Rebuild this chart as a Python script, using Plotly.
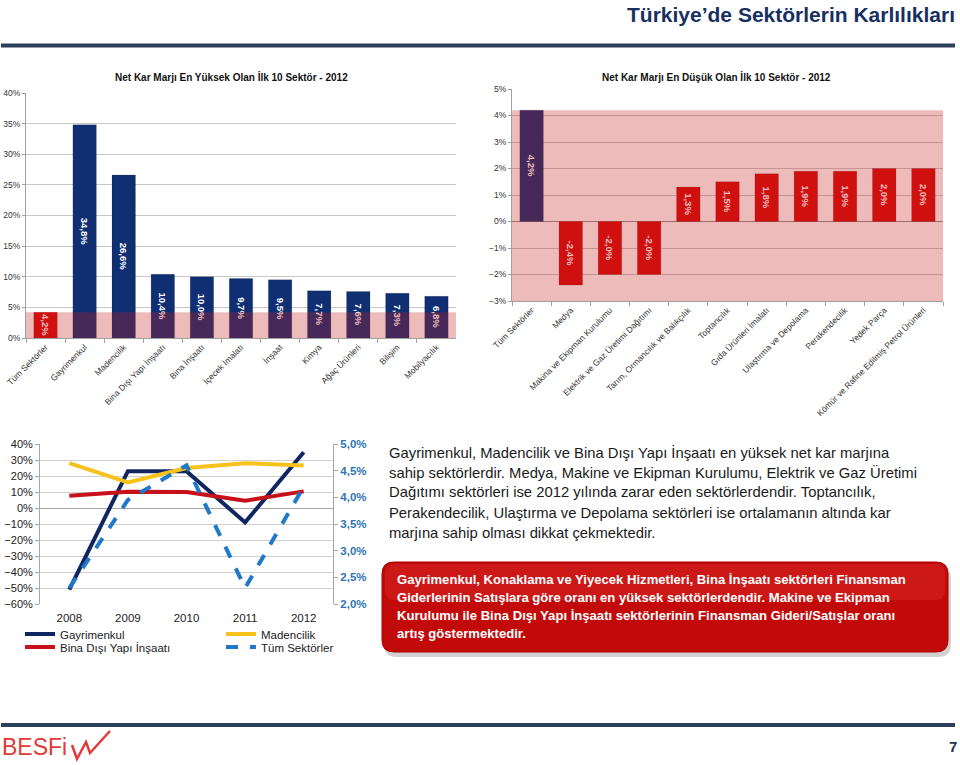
import plotly.graph_objects as go

W, H = 960, 765
def X(px): return px / W
def Y(py): return 1 - py / H

# ---------------- data ----------------
top_sectors = ["Tüm Sektörler", "Gayrimenkul", "Madencilik", "Bina Dışı Yapı İnşaatı",
               "Bina İnşaatı", "İçecek İmalatı", "İnşaat", "Kimya", "Ağaç Ürünleri",
               "Bilişim", "Mobilyacılık"]
top_values = [4.2, 34.8, 26.6, 10.4, 10.0, 9.7, 9.5, 7.7, 7.6, 7.3, 6.8]

low_sectors = ["Tüm Sektörler", "Medya", "Makina ve Ekipman Kurulumu",
               "Elektrik ve Gaz Üretimi Dağıtımı", "Tarım, Ormancılık ve Balıkçılık",
               "Toptancılık", "Gıda Ürünleri İmalatı", "Ulaştırma ve Depolama",
               "Perakendecilik", "Yedek Parça", "Kömür ve Rafine Edilmiş Petrol Ürünleri"]
low_values = [4.2, -2.4, -2.0, -2.0, 1.3, 1.5, 1.8, 1.9, 1.9, 2.0, 2.0]

years = ["2008", "2009", "2010", "2011", "2012"]
gayrimenkul = [-51.0, 23.0, 23.0, -9.0, 34.8]
madencilik = [28.0, 16.0, 25.0, 28.0, 26.6]
bina_disi = [7.7, 10.2, 10.0, 4.6, 10.4]
tum_sektorler = [2.3, 3.95, 4.6, 2.3, 4.2]   # right axis

all_avg = 4.2

NAVY = "#102f73"
RED = "#d40a0a"
BAND = "rgba(200,30,30,0.30)"
GRID = "#c8c8c8"
TXT = "#333333"

fig = go.Figure()

fig.add_trace(go.Bar(
    x=top_sectors, y=top_values, xaxis="x", yaxis="y",
    marker=dict(color=[RED] + [NAVY] * (len(top_values) - 1),
                line=dict(color="rgba(0,0,0,0.25)", width=0.5)),
    texttemplate="<b>%{y:.1f}%</b>", textposition="inside", insidetextanchor="middle",
    textangle=90, constraintext="none",
    insidetextfont=dict(color="white", size=9.5, family="Liberation Sans"),
    showlegend=False, hoverinfo="skip"))

fig.add_trace(go.Bar(
    x=low_sectors, y=low_values, xaxis="x2", yaxis="y2",
    marker=dict(color=[NAVY] + [RED] * (len(low_values) - 1),
                line=dict(color="rgba(0,0,0,0.25)", width=0.5)),
    texttemplate="<b>%{y:.1f}%</b>", textposition="inside", insidetextanchor="middle",
    textangle=90, constraintext="none",
    insidetextfont=dict(color="white", size=9.5, family="Liberation Sans"),
    showlegend=False, hoverinfo="skip"))

fig.add_trace(go.Scatter(x=years, y=gayrimenkul, xaxis="x3", yaxis="y3", mode="lines",
                         name="Gayrimenkul", line=dict(color="#0f2660", width=4),
                         legend="legend"))
fig.add_trace(go.Scatter(x=years, y=madencilik, xaxis="x3", yaxis="y3", mode="lines",
                         name="Madencilik", line=dict(color="#f8c21c", width=4),
                         legend="legend"))
fig.add_trace(go.Scatter(x=years, y=bina_disi, xaxis="x3", yaxis="y3", mode="lines",
                         name="Bina Dışı Yapı İnşaatı", line=dict(color="#c8101a", width=4),
                         legend="legend2"))
fig.add_trace(go.Scatter(x=years, y=tum_sektorler, xaxis="x3", yaxis="y4", mode="lines",
                         name="Tüm Sektörler",
                         line=dict(color="#1f78c8", width=4, dash="dash"),
                         legend="legend2"))

tickfont_small = dict(size=8.5, color=TXT, family="Liberation Sans")

fig.update_layout(
    width=W, height=H, margin=dict(l=0, r=0, t=0, b=0, autoexpand=False),
    paper_bgcolor="white", plot_bgcolor="white",
    separators=",.",
    font=dict(family="Liberation Sans", color=TXT),
    bargap=0.4,
    xaxis=dict(domain=[X(26), X(456)], anchor="y", tickangle=-45, tickfont=tickfont_small,
               showline=True, linecolor="#a0a0a0", ticks="outside", tickson="boundaries",
               ticklen=4, tickcolor="#a0a0a0", automargin=False),
    yaxis=dict(domain=[Y(338), Y(93)], anchor="x", range=[0, 40], dtick=5,
               ticksuffix="%", tickformat=".0f", tickfont=tickfont_small,
               showgrid=True, gridcolor=GRID, showline=True, linecolor="#a0a0a0",
               zeroline=False, ticks="outside", ticklen=3, tickcolor="#a0a0a0",
               automargin=False),
    xaxis2=dict(domain=[X(512), X(943)], anchor="y2", tickangle=-45, tickfont=tickfont_small,
                showline=True, linecolor="#a0a0a0", ticks="outside", tickson="boundaries",
                ticklen=4, tickcolor="#a0a0a0", automargin=False),
    yaxis2=dict(domain=[Y(301), Y(89)], anchor="x2", range=[-3, 5], dtick=1,
                ticksuffix="%", tickformat=".0f", tickfont=tickfont_small,
                showgrid=True, gridcolor=GRID, showline=True, linecolor="#a0a0a0",
                zeroline=True, zerolinecolor="#909090", zerolinewidth=1,
                ticks="outside", ticklen=3, tickcolor="#a0a0a0", automargin=False),
    xaxis3=dict(domain=[X(40), X(333)], anchor="y3", range=[-0.5, 4.5],
                tickfont=dict(size=11.5, color="#222222"), showline=False,
                ticks="outside", ticklen=3, tickcolor="rgba(0,0,0,0)", automargin=False),
    yaxis3=dict(domain=[Y(604), Y(444)], anchor="x3", range=[-60, 40], dtick=10,
                ticksuffix="%", tickformat=".0f", tickfont=dict(size=11, color="#222222"),
                showgrid=True, gridcolor="#d0d0d0", showline=True, linecolor="#a6a6a6",
                zeroline=True, zerolinecolor="#a6a6a6", zerolinewidth=1,
                ticks="outside", ticklen=4, tickcolor="#a6a6a6", automargin=False),
    yaxis4=dict(overlaying="y3", side="right", anchor="x3", range=[2, 5], dtick=0.5,
                ticksuffix="%", tickformat=".1f",
                tickfont=dict(size=11.5, color="#2f75b5", family="Liberation Sans",
                              weight="bold"),
                showgrid=False, showline=True, linecolor="#a6a6a6", zeroline=False,
                ticks="outside", ticklen=4, tickcolor="#a6a6a6", automargin=False),
    legend=dict(orientation="h", x=X(20), xanchor="left", y=Y(634), yanchor="middle",
                entrywidth=156, entrywidthmode="pixels", bgcolor="rgba(0,0,0,0)",
                font=dict(size=11.5, color="#222222"), itemwidth=30),
    legend2=dict(orientation="h", x=X(20), xanchor="left", y=Y(647), yanchor="middle",
                 entrywidth=156, entrywidthmode="pixels", bgcolor="rgba(0,0,0,0)",
                 font=dict(size=11.5, color="#222222"), itemwidth=30),
)

shapes = []
# pink bands (average of all sectors)
shapes.append(dict(type="rect", xref="x domain", yref="y", x0=0, x1=1, y0=0, y1=all_avg,
                   fillcolor=BAND, line=dict(width=0), layer="above"))
shapes.append(dict(type="rect", xref="x2 domain", yref="y2", x0=0, x1=1, y0=-3, y1=all_avg,
                   fillcolor=BAND, line=dict(width=0), layer="above"))
# header / footer lines
shapes.append(dict(type="line", xref="paper", yref="paper", x0=X(1), x1=X(955),
                   y0=Y(45.5), y1=Y(45.5), line=dict(color="#2a3f5c", width=4)))
shapes.append(dict(type="line", xref="paper", yref="paper", x0=X(1), x1=X(955),
                   y0=Y(725), y1=Y(725), line=dict(color="#2a3f5c", width=4)))

def rounded(x0, y0, x1, y1, r):
    rx, ry = r / W, r / H
    a, b, c, d = X(x0), Y(y0), X(x1), Y(y1)   # b top, d bottom in paper
    return (f"M {a+rx},{b} L {c-rx},{b} Q {c},{b} {c},{b-ry} L {c},{d+ry} "
            f"Q {c},{d} {c-rx},{d} L {a+rx},{d} Q {a},{d} {a},{d+ry} "
            f"L {a},{b-ry} Q {a},{b} {a+rx},{b} Z")

# red box shadow, box, highlight
shapes.append(dict(type="path", xref="paper", yref="paper",
                   path=rounded(384, 566, 951, 657, 13),
                   fillcolor="rgba(0,0,0,0.18)", line=dict(width=0)))
shapes.append(dict(type="path", xref="paper", yref="paper",
                   path=rounded(382, 562, 948, 652, 12),
                   fillcolor="#c30a0a", line=dict(color="#a80000", width=1)))
shapes.append(dict(type="path", xref="paper", yref="paper",
                   path=rounded(385, 564, 945, 600, 10),
                   fillcolor="rgba(255,90,90,0.18)", line=dict(width=0)))
# logo zigzag
shapes.append(dict(type="path", xref="paper", yref="paper",
                   path=(f"M {X(72)},{Y(745)} L {X(77)},{Y(759)} L {X(86)},{Y(742)} "
                         f"L {X(90)},{Y(753)} L {X(110)},{Y(731)}"),
                   line=dict(color="#e03a3a", width=2.5)))
fig.update_layout(shapes=shapes)

ann = []
ann.append(dict(text="<b>Türkiye’de Sektörlerin Karlılıkları</b>", x=X(957), y=Y(14),
                xref="paper", yref="paper", xanchor="right", yanchor="middle",
                showarrow=False, font=dict(size=21, color="#17305f", family="Liberation Sans")))
ann.append(dict(text="<b>Net Kar Marjı En Yüksek Olan İlk 10 Sektör - 2012</b>",
                x=X(231), y=Y(77), xref="paper", yref="paper", xanchor="center",
                yanchor="middle", showarrow=False, font=dict(size=10, color="#111111")))
ann.append(dict(text="<b>Net Kar Marjı En Düşük Olan İlk 10 Sektör - 2012</b>",
                x=X(716), y=Y(77), xref="paper", yref="paper", xanchor="center",
                yanchor="middle", showarrow=False, font=dict(size=10, color="#111111")))

para = ["Gayrimenkul, Madencilik ve Bina Dışı Yapı İnşaatı en yüksek net kar marjına",
        "sahip sektörlerdir. Medya, Makine ve Ekipman Kurulumu, Elektrik ve Gaz Üretimi",
        "Dağıtımı sektörleri ise 2012 yılında zarar eden sektörlerdendir. Toptancılık,",
        "Perakendecilik, Ulaştırma ve Depolama sektörleri ise ortalamanın altında kar",
        "marjına sahip olması dikkat çekmektedir."]
para_y = [452, 472, 492, 513, 533]
for t, py in zip(para, para_y):
    ann.append(dict(text=t, x=X(387), y=Y(py), xref="paper", yref="paper", xanchor="left",
                    yanchor="middle", showarrow=False,
                    font=dict(size=14.8, color="#1a1a1a", family="Liberation Sans")))

box = ["Gayrimenkul, Konaklama ve Yiyecek Hizmetleri, Bina İnşaatı sektörleri Finansman",
       "Giderlerinin Satışlara göre oranı en yüksek sektörlerdendir. Makine ve Ekipman",
       "Kurulumu ile Bina Dışı Yapı İnşaatı sektörlerinin Finansman Gideri/Satışlar oranı",
       "artış göstermektedir."]
box_y = [579, 597, 615, 633]
for t, py in zip(box, box_y):
    ann.append(dict(text=f"<b>{t}</b>", x=X(395), y=Y(py), xref="paper", yref="paper",
                    xanchor="left", yanchor="middle", showarrow=False,
                    font=dict(size=13.1, color="white", family="Liberation Sans")))

ann.append(dict(text="BESFi", x=X(0), y=Y(747), xref="paper", yref="paper", xanchor="left",
                yanchor="middle", showarrow=False,
                font=dict(size=23, color="#e03a3a", family="Liberation Sans")))
ann.append(dict(text="<b>7</b>", x=X(959), y=Y(746), xref="paper", yref="paper",
                xanchor="right", yanchor="middle", showarrow=False,
                font=dict(size=15, color="#1f3558")))
fig.update_layout(annotations=ann)

fig.write_html("out.html")
